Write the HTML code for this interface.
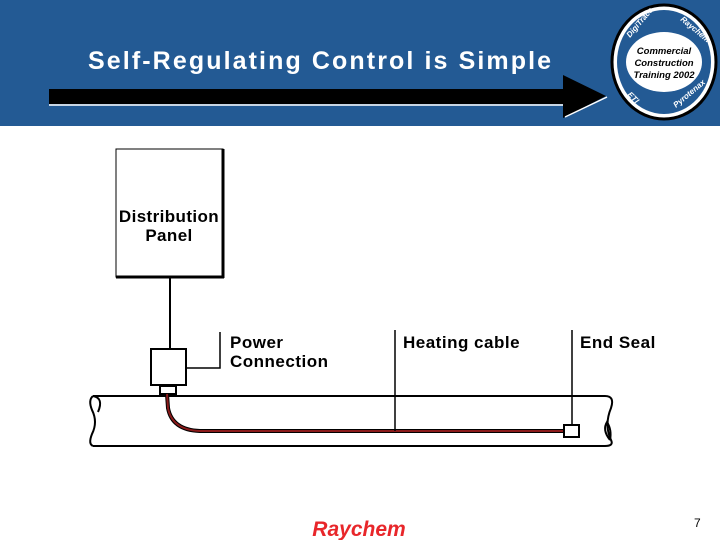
<!DOCTYPE html>
<html><head><style>
body{margin:0;width:720px;height:540px;background:#fff;overflow:hidden;font-family:"Liberation Sans",Arial,sans-serif}
</style></head><body>
<svg width="720" height="540" viewBox="0 0 720 540" xmlns="http://www.w3.org/2000/svg" style="position:absolute;left:0;top:0">
<rect x="0" y="0" width="720" height="126" fill="#235a94"/>
<text x="88" y="69" font-family="Liberation Sans, Arial, sans-serif" font-weight="bold" font-size="25" letter-spacing="2.1" fill="#fff">Self-Regulating Control is Simple</text>
<polygon points="49,89 563,89 563,75 606,96 563,118 563,104 49,104" fill="#000"/>
<line x1="49" y1="105" x2="563" y2="105" stroke="#fff" stroke-width="1.5"/>
<line x1="565" y1="117" x2="607" y2="97" stroke="#fff" stroke-width="1.5"/>
<ellipse cx="664" cy="62" rx="52" ry="57" fill="#fff" stroke="#000" stroke-width="3"/>
<ellipse cx="664" cy="62" rx="47" ry="52" fill="#235a94"/>
<ellipse cx="664" cy="62" rx="38" ry="30" fill="#fff"/>
<text x="664" y="54" text-anchor="middle" font-size="9.5" font-weight="bold" font-style="italic" fill="#000">Commercial</text>
<text x="664" y="66" text-anchor="middle" font-size="9.5" font-weight="bold" font-style="italic" fill="#000">Construction</text>
<text x="664" y="78" text-anchor="middle" font-size="9.5" font-weight="bold" font-style="italic" fill="#000">Training 2002</text>
<text x="630" y="38" font-size="8" font-weight="bold" font-style="italic" fill="#fff" transform="rotate(-50 630 38)">DigiTrace</text>
<text x="680" y="20" font-size="8" font-weight="bold" font-style="italic" fill="#fff" transform="rotate(40 680 20)">Raychem</text>
<text x="627" y="95" font-size="8" font-weight="bold" font-style="italic" fill="#fff" transform="rotate(45 627 95)">ETI</text>
<text x="676" y="108" font-size="8" font-weight="bold" font-style="italic" fill="#fff" transform="rotate(-40 676 108)">Pyrotenax</text>

<rect x="116" y="149" width="107" height="128" fill="#fff" stroke="#000" stroke-width="1"/>
<line x1="223" y1="149" x2="223" y2="278" stroke="#000" stroke-width="3"/>
<line x1="116" y1="277" x2="224" y2="277" stroke="#000" stroke-width="3"/>
<text x="169" y="222" text-anchor="middle" font-size="17" letter-spacing="0.4" font-weight="bold">Distribution</text>
<text x="169" y="241" text-anchor="middle" font-size="17" letter-spacing="0.4" font-weight="bold">Panel</text>

<line x1="170" y1="278" x2="170" y2="349" stroke="#000" stroke-width="2"/>
<rect x="151" y="349" width="35" height="36" fill="#fff" stroke="#000" stroke-width="2"/>
<polyline points="186,368 220,368 220,332" fill="none" stroke="#000" stroke-width="1.5"/>
<rect x="160" y="386" width="16" height="8" fill="#fff" stroke="#000" stroke-width="2"/>

<path d="M93,396 L605,396 Q615,396 611,408 Q604,425 611,440 Q614,446 605,446 L93,446" fill="none" stroke="#000" stroke-width="2"/>
<path d="M93,396 Q88,400 92,410 Q98,422 92,434 Q88,444 93,446" fill="none" stroke="#000" stroke-width="2"/>
<path d="M93,396 Q104,398 98,412" fill="none" stroke="#000" stroke-width="2"/>
<path d="M610,440 Q602,430 607,422 Q612,430 610,440" fill="none" stroke="#000" stroke-width="2"/>

<path d="M167,394 L168,408 Q172,430 200,431 L564,431" fill="none" stroke="#000" stroke-width="4"/>
<path d="M167,394 L168,408 Q172,430 200,431 L564,431" fill="none" stroke="#8b1a1a" stroke-width="2"/>

<line x1="395" y1="330" x2="395" y2="431" stroke="#000" stroke-width="1.5"/>
<line x1="572" y1="330" x2="572" y2="425" stroke="#000" stroke-width="1.5"/>
<rect x="564" y="425" width="15" height="12" fill="#fff" stroke="#000" stroke-width="2"/>

<g font-size="17" font-weight="bold" letter-spacing="0.5">
<text x="230" y="348">Power</text>
<text x="230" y="367">Connection</text>
<text x="403" y="348">Heating cable</text>
<text x="580" y="348">End Seal</text>
</g>

<text x="359" y="536" text-anchor="middle" font-size="21" font-weight="bold" font-style="italic" fill="#e8262a">Raychem</text>
<text x="694" y="527" font-size="12" fill="#000">7</text>
</svg>
</body></html>
